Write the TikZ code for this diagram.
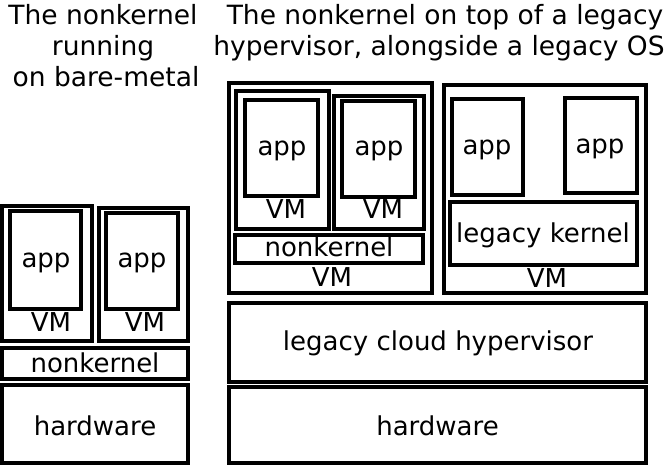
\documentclass[tikz,border=0pt]{standalone}
\usepackage{fontspec}
\setmainfont{DejaVu Sans}
\begin{document}
\begin{tikzpicture}[x=1pt,y=-1pt,
  box/.style={draw=black, line width=4pt},
  lbl/.style={anchor=base, inner sep=0pt, font=\fontsize{26}{31}\selectfont},
  ttl/.style={anchor=base, inner sep=0pt, font=\fontsize{26.5}{31}\selectfont}]
\useasboundingbox (0,0) rectangle (670,465);
% ---- titles
\node[ttl] (t1a) at (103,25) {The nonkernel};
\node[ttl] (t1b) at (103,56) {running};
\node[ttl] (t1c) at (106,87) {on bare-metal};
\node[ttl] (t2a) at (445,25) {The nonkernel on top of a legacy};
\node[ttl] (t2b) at (439,56) {hypervisor, alongside a legacy OS};
% ---- left stack
\draw[box] (2,206.5) rectangle (91.5,341.5);
\draw[box] (10,211) rectangle (81,309);
\node[lbl] (lapp1) at (46,268) {app};
\node[lbl] (lvm1) at (51,331) {VM};
\draw[box] (98.5,208) rectangle (187.5,341.5);
\draw[box] (106,213) rectangle (178,309);
\node[lbl] (lapp2) at (142,268) {app};
\node[lbl] (lvm2) at (145,331) {VM};
\draw[box] (2,348) rectangle (187.5,378.5);
\node[lbl] (lnk) at (95,373) {nonkernel};
\draw[box] (2,385) rectangle (187.5,463);
\node[lbl] (lhw) at (95,435) {hardware};
% ---- right stack: nonkernel VM
\draw[box] (228.5,83.5) rectangle (431.5,293.5);
\draw[box] (235.5,91.5) rectangle (329,229);
\draw[box] (245,100) rectangle (318,196);
\node[lbl] (rapp1) at (282,156) {app};
\node[lbl] (rvm1) at (286,219) {VM};
\draw[box] (334,96) rectangle (424,229);
\draw[box] (342,101) rectangle (415,197);
\node[lbl] (rapp2) at (379,156) {app};
\node[lbl] (rvm2) at (383,219) {VM};
\draw[box] (235,235) rectangle (423,263);
\node[lbl] (rnk) at (329,257) {nonkernel};
\node[lbl] (rvm) at (332,287) {VM};
% ---- right stack: legacy VM
\draw[box] (443.5,85.5) rectangle (646,293.5);
\draw[box] (452,99) rectangle (523,195);
\node[lbl] (lapp3) at (487,155) {app};
\draw[box] (565,98) rectangle (637,193);
\node[lbl] (lapp4) at (600,154) {app};
\draw[box] (450,202) rectangle (637,265);
\node[lbl] (lk) at (543,243) {legacy kernel};
\node[lbl] (lvm) at (547,288) {VM};
% ---- hypervisor and hardware
\draw[box] (229,303) rectangle (645.5,381.5);
\node[lbl] (hyp) at (438,351) {legacy cloud hypervisor};
\draw[box] (229,387) rectangle (645.5,463);
\node[lbl] (rhw) at (437.5,435) {hardware};
\end{tikzpicture}
\end{document}
